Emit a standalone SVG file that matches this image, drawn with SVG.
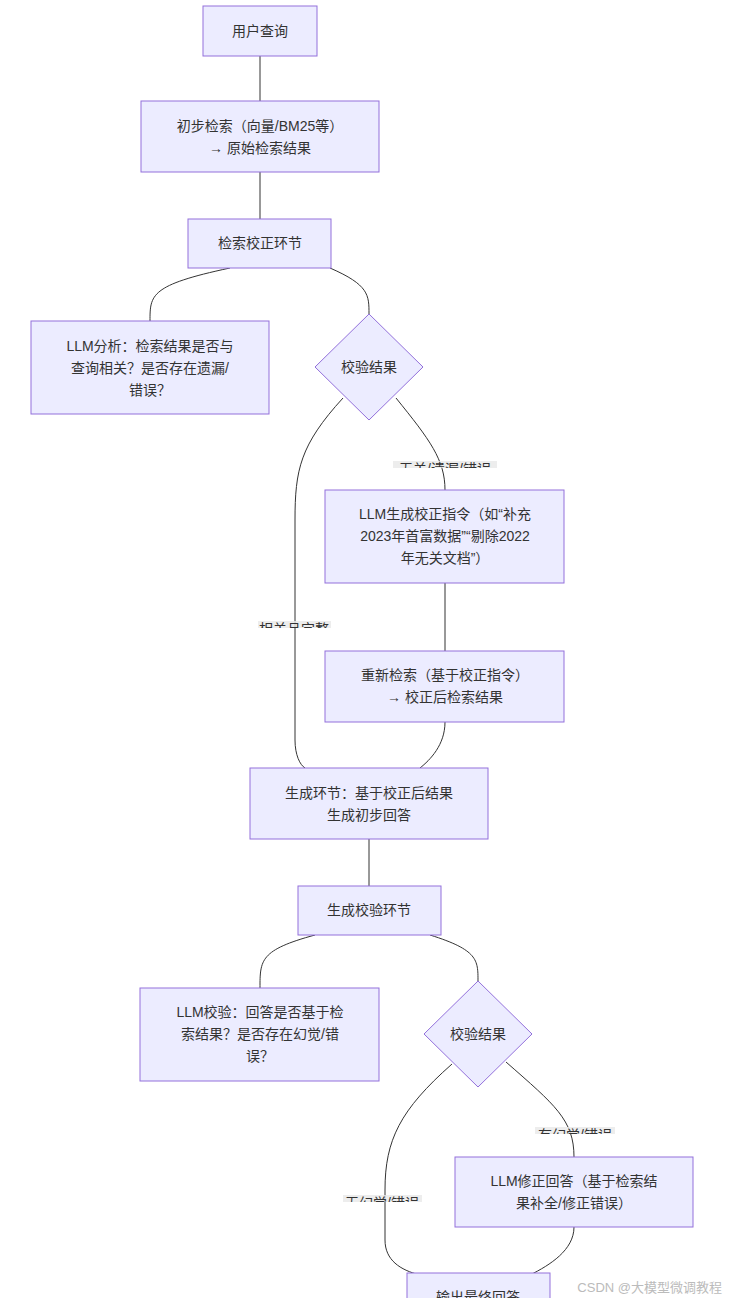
<svg xmlns="http://www.w3.org/2000/svg" width="734" height="1298" viewBox="0 0 734 1298">
<style>
.n{fill:#ececff;stroke:#9370db;stroke-width:1}
.t{font-family:"Liberation Sans","Noto Sans CJK SC",sans-serif;font-size:14px;fill:#333;text-anchor:middle}
.e{fill:none;stroke:#333;stroke-width:1}
.lb{fill:#e8e8e8;opacity:0.8}
</style>
<defs>
<clipPath id="c1"><rect x="393" y="461" width="104" height="7"/></clipPath>
<clipPath id="c2"><rect x="258" y="621" width="73" height="7"/></clipPath>
<clipPath id="c3"><rect x="535" y="1127" width="80" height="7"/></clipPath>
<clipPath id="c4"><rect x="343" y="1195" width="79" height="7"/></clipPath>
</defs>
<rect width="734" height="1298" fill="#fff"/>
<g id="edges">
<path class="e" d="M260,56V101"/>
<path class="e" d="M260,172V219"/>
<path class="e" d="M230,268C150,285 150,295 150,321"/>
<path class="e" d="M330,268C369,285 369,295 369,314"/>
<path class="e" d="M343,398C300,445 295,470 295,520V740C295,755 300,765 305,768"/>
<path class="e" d="M396,398C430,440 445,460 445,490"/>
<path class="e" d="M445,583V651"/>
<path class="e" d="M445,722C445,745 430,760 420,768"/>
<path class="e" d="M369,839V886"/>
<path class="e" d="M315,935C260,950 260,960 260,988"/>
<path class="e" d="M430,935C478,950 478,960 478,981"/>
<path class="e" d="M452,1064C400,1110 385,1140 385,1190V1240C385,1260 400,1270 420,1275"/>
<path class="e" d="M506,1062C555,1105 574,1120 574,1157"/>
<path class="e" d="M574,1227C574,1250 550,1265 530,1275"/>
<g clip-path="url(#c1)"><rect class="lb" x="393" y="461" width="104" height="20"/><text class="t" x="445" y="474">无关/遗漏/错误</text></g>
<g clip-path="url(#c2)"><rect class="lb" x="258" y="621" width="73" height="20"/><text class="t" x="294" y="634">相关且完整</text></g>
<g clip-path="url(#c3)"><rect class="lb" x="535" y="1127" width="80" height="20"/><text class="t" x="575" y="1140">有幻觉/错误</text></g>
<g clip-path="url(#c4)"><rect class="lb" x="343" y="1195" width="79" height="20"/><text class="t" x="382" y="1208">无幻觉/错误</text></g>
</g>
<g id="n1"><rect class="n" x="203" y="6" width="114" height="50"/><text class="t" x="260" y="36">用户查询</text></g>
<g id="n2"><rect class="n" x="141" y="101" width="238" height="71"/><text class="t" x="260" y="131">初步检索（向量/BM25等）</text><text class="t" x="260" y="153">→ 原始检索结果</text></g>
<g id="n3"><rect class="n" x="188" y="219" width="143" height="49"/><text class="t" x="260" y="248">检索校正环节</text></g>
<g id="n4"><rect class="n" x="31" y="321" width="238" height="93"/><text class="t" x="150" y="351">LLM分析：检索结果是否与</text><text class="t" x="150" y="373">查询相关？是否存在遗漏/</text><text class="t" x="150" y="395">错误？</text></g>
<g id="n5"><polygon class="n" points="369,314 423,367 369,420 315,367"/><text class="t" x="369" y="372">校验结果</text></g>
<g id="n6"><rect class="n" x="325" y="490" width="239" height="93"/><text class="t" x="445" y="519">LLM生成校正指令（如“补充</text><text class="t" x="445" y="541">2023年首富数据”“剔除2022</text><text class="t" x="445" y="563">年无关文档”）</text></g>
<g id="n7"><rect class="n" x="325" y="651" width="239" height="71"/><text class="t" x="445" y="680">重新检索（基于校正指令）</text><text class="t" x="445" y="702">→ 校正后检索结果</text></g>
<g id="n8"><rect class="n" x="250" y="768" width="238" height="71"/><text class="t" x="369" y="798">生成环节：基于校正后结果</text><text class="t" x="369" y="820">生成初步回答</text></g>
<g id="n9"><rect class="n" x="298" y="886" width="143" height="49"/><text class="t" x="369" y="915">生成校验环节</text></g>
<g id="n10"><rect class="n" x="140" y="988" width="239" height="93"/><text class="t" x="260" y="1017">LLM校验：回答是否基于检</text><text class="t" x="260" y="1039">索结果？是否存在幻觉/错</text><text class="t" x="260" y="1061">误？</text></g>
<g id="n11"><polygon class="n" points="478,981 532,1034 478,1087 424,1034"/><text class="t" x="478" y="1039">校验结果</text></g>
<g id="n12"><rect class="n" x="455" y="1157" width="238" height="70"/><text class="t" x="574" y="1186">LLM修正回答（基于检索结</text><text class="t" x="574" y="1208">果补全/修正错误）</text></g>
<g id="n13"><rect class="n" x="407" y="1273" width="143" height="49"/><text class="t" x="478" y="1302">输出最终回答</text></g>
<text x="722" y="1292" style="font-family:'Liberation Sans','Noto Sans CJK SC',sans-serif;font-size:13px;fill:#bbb;text-anchor:end">CSDN @大模型微调教程</text>
</svg>
